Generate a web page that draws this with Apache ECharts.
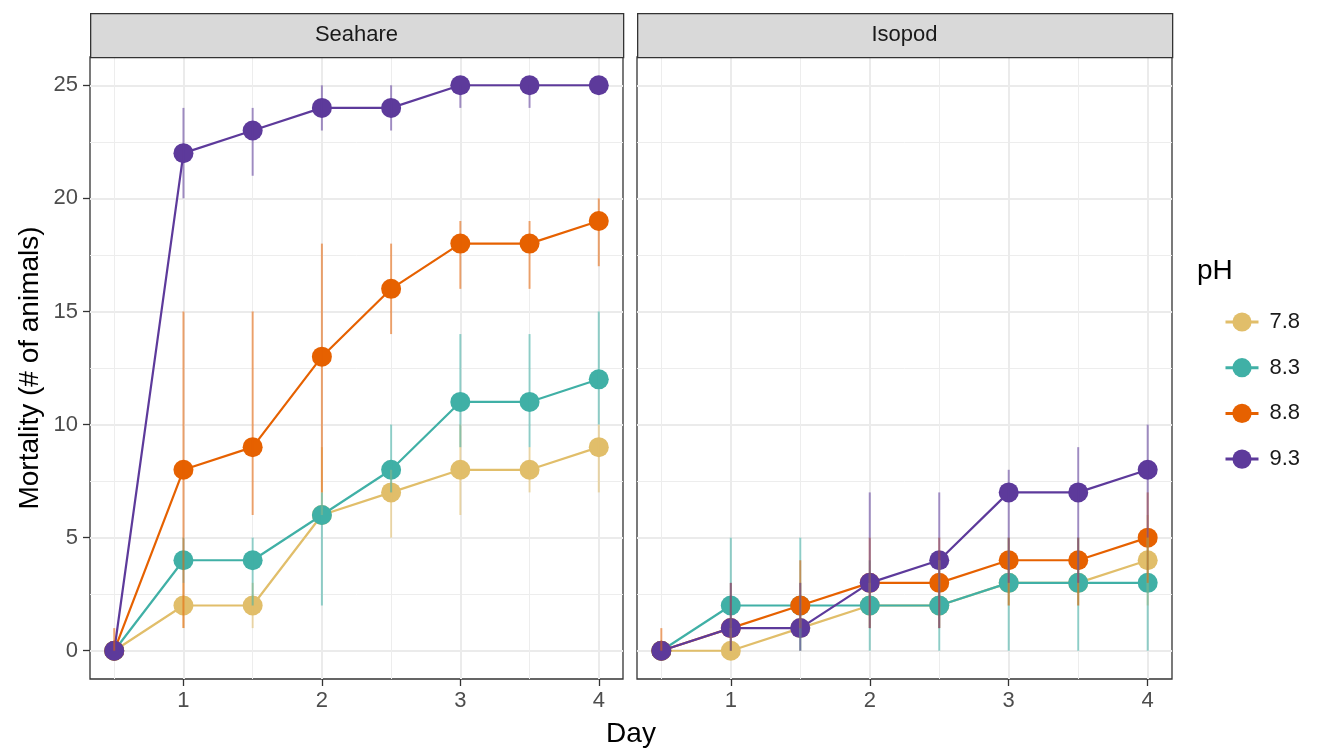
<!DOCTYPE html>
<html>
<head>
<meta charset="utf-8">
<script src="https://cdn.jsdelivr.net/npm/echarts@6/dist/echarts.min.js"></script>
<style>html,body{margin:0;padding:0;background:#fff;}#c{width:1325px;height:749px;}</style>
</head>
<body>
<div id="c"></div>
<script>
// ---- data ----
const days = [0.5, 1, 1.5, 2, 2.5, 3, 3.5, 4];
const phLevels = ['7.8', '8.3', '8.8', '9.3'];
const panels = ['Seahare', 'Isopod'];
const xTicks = [1, 2, 3, 4];
const xMinor = [0.5, 1.5, 2.5, 3.5];
const yTicks = [0, 5, 10, 15, 20, 25];
const yMinor = [2.5, 7.5, 12.5, 17.5, 22.5];

// Seahare means / lower / upper
const seahare78 = [0, 2, 2, 6, 7, 8, 8, 9];
const seahare78Lo = [0, 1, 1, 6, 5, 6, 7, 7];
const seahare78Hi = [0, 3, 3, 9, 8, 10, 9, 10];
const seahare83 = [0, 4, 4, 6, 8, 11, 11, 12];
const seahare83Lo = [0, 3, 2, 2, 7, 9, 9, 10];
const seahare83Hi = [0, 5, 5, 7, 10, 14, 14, 15];
const seahare88 = [0, 8, 9, 13, 16, 18, 18, 19];
const seahare88Lo = [0, 1, 6, 7, 14, 16, 16, 17];
const seahare88Hi = [1, 15, 15, 18, 18, 19, 19, 20];
const seahare93 = [0, 22, 23, 24, 24, 25, 25, 25];
const seahare93Lo = [0, 20, 21, 23, 23, 24, 24, 25];
const seahare93Hi = [0, 24, 24, 25, 25, 25, 25, 25];

// Isopod means / lower / upper
const isopod78 = [0, 0, 1, 2, 2, 3, 3, 4];
const isopod78Lo = [0, 0, 0, 1, 1, 2, 2, 2];
const isopod78Hi = [0, 1, 3, 3, 4, 5, 5, 6];
const isopod83 = [0, 2, 2, 2, 2, 3, 3, 3];
const isopod83Lo = [0, 0, 0, 0, 0, 0, 0, 0];
const isopod83Hi = [0, 5, 5, 4, 4, 5, 5, 5];
const isopod88 = [0, 1, 2, 3, 3, 4, 4, 5];
const isopod88Lo = [0, 0, 1, 1, 1, 2, 2, 3];
const isopod88Hi = [1, 3, 4, 5, 5, 5, 5, 7];
const isopod93 = [0, 1, 1, 3, 4, 7, 7, 8];
const isopod93Lo = [0, 0, 0, 1, 1, 3, 3, 5];
const isopod93Hi = [0, 3, 3, 7, 7, 8, 9, 10];

const colors = ['#E1BE6A', '#40B0A6', '#E66100', '#5D3A9B'];

const panelData = [
  { means: [seahare78, seahare83, seahare88, seahare93], lo: [seahare78Lo, seahare83Lo, seahare88Lo, seahare93Lo], hi: [seahare78Hi, seahare83Hi, seahare88Hi, seahare93Hi] },
  { means: [isopod78, isopod83, isopod88, isopod93], lo: [isopod78Lo, isopod83Lo, isopod88Lo, isopod93Lo], hi: [isopod78Hi, isopod83Hi, isopod88Hi, isopod93Hi] }
];

// ---- layout ----
const gridLefts = [90, 637];
const gridWidths = [533, 535];
const gridTop = 57, gridHeight = 622;
const stripTop = 13;
const XMIN = 0.325, XMAX = 4.175, YMIN = -1.25, YMAX = 26.25;
const FONT = '"Liberation Sans", Arial, sans-serif';

const grids = [], xAxes = [], yAxes = [], series = [], graphics = [];

panels.forEach((p, pi) => {
  grids.push({ left: gridLefts[pi], top: gridTop, width: gridWidths[pi], height: gridHeight,
    show: true, borderColor: '#333333', borderWidth: 1.3, backgroundColor: '#ffffff', containLabel: false, outerBoundsMode: 'none' });
  // major x
  xAxes.push({ gridIndex: pi, type: 'value', min: XMIN, max: XMAX, position: 'bottom',
    axisLine: { show: false, onZero: false },
    axisTick: { show: true, length: 7, lineStyle: { color: '#333333', width: 1.3 }, customValues: xTicks },
    axisLabel: { show: true, customValues: xTicks, fontSize: 22, color: '#4d4d4d', fontFamily: FONT, margin: 11 },
    splitLine: { show: true, lineStyle: { color: '#ebebeb', width: 2 } } });
  // minor x
  xAxes.push({ gridIndex: pi, type: 'value', min: XMIN, max: XMAX, position: 'top',
    axisLine: { show: false, onZero: false }, axisTick: { show: false, customValues: xMinor },
    axisLabel: { show: false, customValues: xMinor },
    splitLine: { show: true, lineStyle: { color: '#ededed', width: 1 } } });
  // major y
  yAxes.push({ gridIndex: pi, type: 'value', min: YMIN, max: YMAX, position: 'left',
    axisLine: { show: false, onZero: false },
    axisTick: { show: pi === 0, length: 7, lineStyle: { color: '#333333', width: 1.3 }, customValues: yTicks },
    axisLabel: { show: pi === 0, customValues: yTicks, fontSize: 22, color: '#4d4d4d', fontFamily: FONT, margin: 12 },
    splitLine: { show: true, lineStyle: { color: '#ebebeb', width: 2 } } });
  // minor y
  yAxes.push({ gridIndex: pi, type: 'value', min: YMIN, max: YMAX, position: 'right',
    axisLine: { show: false, onZero: false }, axisTick: { show: false, customValues: yMinor },
    axisLabel: { show: false, customValues: yMinor },
    splitLine: { show: true, lineStyle: { color: '#ededed', width: 1 } } });

  const pd = panelData[pi];
  phLevels.forEach((ph, gi) => {
    series.push({
      name: ph, type: 'line', xAxisIndex: pi * 2, yAxisIndex: pi * 2,
      data: days.map((d, i) => [d, pd.means[gi][i]]),
      symbol: 'circle', symbolSize: 20, showSymbol: true,
      lineStyle: { color: colors[gi], width: 2.2 },
      itemStyle: { color: colors[gi] },
      emphasis: { disabled: true }, z: 3 + gi * 0.01, silent: true
    });
  });
  const ebData = [];
  phLevels.forEach((ph, gi) => {
    days.forEach((d, i) => { ebData.push([d, pd.lo[gi][i], pd.hi[gi][i], gi]); });
  });
  series.push({
    type: 'custom', xAxisIndex: pi * 2, yAxisIndex: pi * 2, z: 4, silent: true,
    data: ebData,
    encode: { x: 0, y: [1, 2] },
    renderItem: function (params, api) {
      const x = api.value(0), lo = api.value(1), hi = api.value(2), g = api.value(3);
      if (hi <= lo) return null;
      const p1 = api.coord([x, lo]), p2 = api.coord([x, hi]);
      return { type: 'line', shape: { x1: p1[0], y1: p1[1], x2: p2[0], y2: p2[1] },
        style: { stroke: colors[g], lineWidth: 2, opacity: 0.55 } };
    }
  });

  // strip
  graphics.push({ type: 'rect', left: gridLefts[pi], top: stripTop,
    shape: { width: gridWidths[pi], height: gridTop - stripTop },
    style: { fill: '#d9d9d9', stroke: '#333333', lineWidth: 1.3 }, z: 10 });
  graphics.push({ type: 'text', x: gridLefts[pi] + gridWidths[pi] / 2, y: (stripTop + gridTop) / 2,
    style: { text: p, fontSize: 22, fill: '#1a1a1a', fontFamily: FONT, align: 'center', verticalAlign: 'middle' }, z: 11 });
});

// axis titles & legend title
graphics.push({ type: 'text', x: (gridLefts[0] + gridLefts[1] + gridWidths[1]) / 2, y: 734,
  style: { text: 'Day', fontSize: 28, fill: '#000000', fontFamily: FONT, align: 'center', verticalAlign: 'middle' } });
graphics.push({ type: 'text', x: 30, y: gridTop + gridHeight / 2, rotation: Math.PI / 2,
  style: { text: 'Mortality (# of animals)', fontSize: 28, fill: '#000000', fontFamily: FONT, align: 'center', verticalAlign: 'middle' } });
graphics.push({ type: 'text', x: 1197, y: 271,
  style: { text: 'pH', fontSize: 28, fill: '#000000', fontFamily: FONT, align: 'left', verticalAlign: 'middle' } });

const option = {
  animation: false,
  backgroundColor: '#ffffff',
  grid: grids,
  xAxis: xAxes,
  yAxis: yAxes,
  series: series,
  graphic: graphics,
  legend: {
    data: phLevels, orient: 'vertical', left: 1219, top: 306,
    itemWidth: 33, itemHeight: 24, itemGap: 23.7, selectedMode: false,
    lineStyle: { width: 3 },
    textStyle: { fontSize: 22, color: '#1a1a1a', fontFamily: FONT, padding: [0, 0, 0, 6] }
  }
};
const chart = echarts.init(document.getElementById('c'), null, { renderer: 'canvas' });
chart.setOption(option);
</script>
</body>
</html>
